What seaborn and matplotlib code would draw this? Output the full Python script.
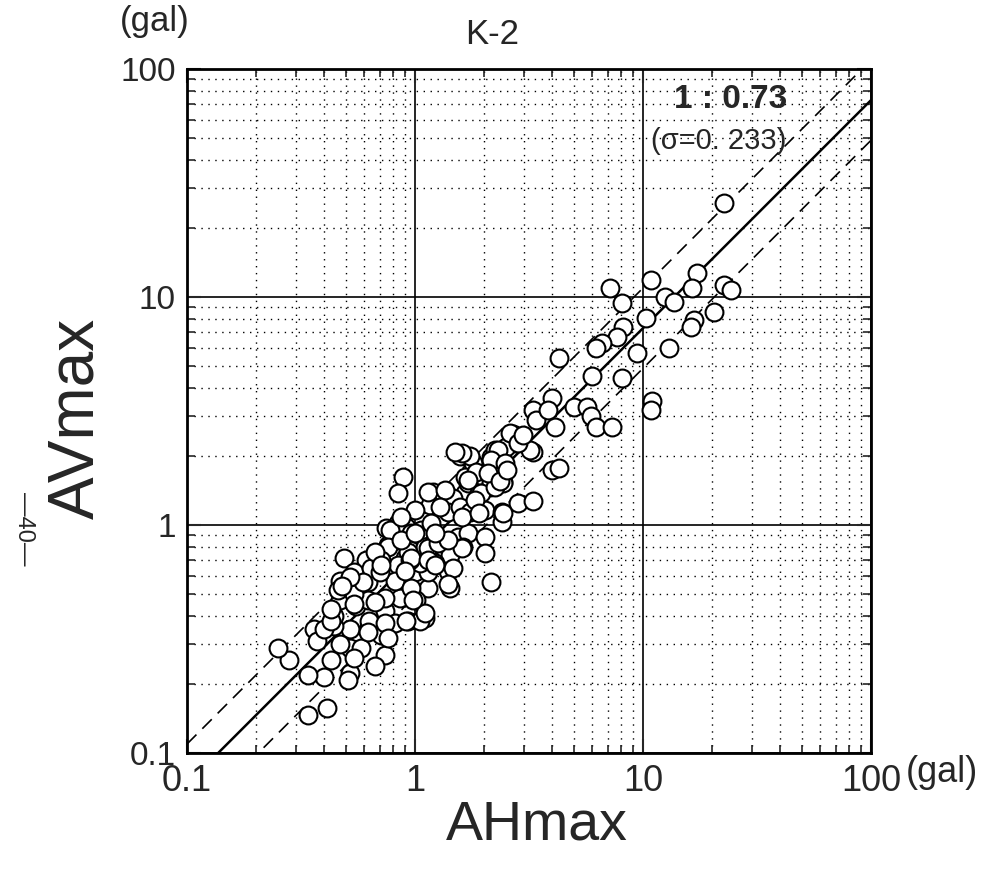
import numpy as np
import pandas as pd
import seaborn as sns
import matplotlib
matplotlib.use('Agg')
from matplotlib import pyplot as plt
from matplotlib.ticker import LogLocator, NullFormatter

# AHmax (gal) / AVmax (gal)
ah_max = [22.7, 7.2, 10.8, 8.1, 12.5, 13.7, 17.3, 16.4, 22.7, 24.4, 20.5, 16.8, 16.3, 10.3, 8.2,
          7.7, 6.6, 6.2, 9.4, 13.0, 8.1, 6.0,
          4.3, 11.0, 10.8, 4.0, 3.3, 3.4, 3.85, 5.0, 5.7, 5.9, 6.2, 7.3, 4.1, 2.7, 2.78, 2.4, 3.3,
          1.66, 1.8, 2.16, 4.0, 4.3, 2.44, 1.95, 1.66, 1.76, 2.14, 1.66,
          0.89, 0.84, 1.58, 1.75, 2.25, 2.5, 3.2, 1.86, 1.71, 2.16, 2.44, 1.2, 1.16, 1.47, 1.9, 1.4,
          1.58, 1.75, 2.03, 2.4, 2.84, 2.4, 0.84, 0.745, 0.91, 1.06, 1.18, 0.96, 1.24, 1.55, 1.71,
          2.03, 1.63, 2.03, 0.84, 0.76, 0.95, 1.11, 1.36, 1.43, 1.18, 0.90,
          2.16, 2.44, 2.62, 2.84, 1.6, 1.5, 1.14, 1.36, 0.78, 0.49, 0.61, 0.76, 0.93, 1.14, 1.22,
          1.40, 1.43, 1.14, 0.86, 1.01, 1.11, 0.93, 0.74, 0.62, 0.54, 0.47, 0.47, 0.55, 0.62, 0.71,
          0.52, 0.44, 0.36, 0.37, 0.43, 0.52, 0.52, 0.51, 0.74, 0.67, 0.82, 1.05, 0.40, 0.34, 0.28,
          0.25, 0.41, 0.34, 0.64, 0.84, 0.71, 1.0, 1.14, 1.05, 0.82, 0.96, 0.74, 0.62, 0.54, 0.44,
          0.40, 0.47, 0.58, 0.54, 0.95, 1.26, 1.47, 1.6, 0.87, 0.67, 0.70, 1.11, 0.96, 1.14, 1.40,
          1.71, 1.95, 2.25, 1.84, 2.32, 2.16, 2.1, 2.49, 1.29, 1.0, 0.87, 1.0, 1.22, 1.6, 1.9,
          0.59, 0.46, 0.52, 0.54, 0.67, 0.63, 0.74, 0.91, 0.98, 1.40, 1.22, 0.71, 0.90, 0.62, 0.76,
          0.43, 0.48, 0.43, 3.3, 2.37, 2.54, 2.97]
av_max = [25.8, 10.9, 11.9, 9.4, 10.0, 9.5, 12.7, 10.9, 11.3, 10.7, 8.6, 7.9, 7.4, 8.1, 7.4,
          6.7, 6.3, 6.0, 5.7, 6.0, 4.4, 4.5,
          5.4, 3.5, 3.2, 3.6, 3.2, 2.9, 3.2, 3.3, 3.3, 3.0, 2.7, 2.7, 2.7, 2.5, 2.3, 2.1, 2.1,
          2.0, 1.87, 1.99, 1.74, 1.78, 1.55, 1.55, 1.62, 1.42, 1.47, 1.38,
          1.62, 1.38, 2.0, 2.0, 2.13, 2.2, 2.13, 1.71, 1.53, 1.55, 1.53, 1.4, 1.22, 1.31, 1.38, 1.14,
          1.2, 1.14, 1.16, 1.14, 1.25, 1.03, 1.02, 0.97, 0.98, 0.95, 1.02, 0.92, 0.89, 0.89, 0.92,
          0.89, 0.80, 0.75, 0.86, 0.82, 0.78, 0.80, 0.83, 0.74, 0.70, 0.72,
          0.56, 1.13, 2.53, 2.29, 2.07, 2.09, 1.40, 1.42, 0.95, 0.72, 0.70, 0.80, 0.76, 0.79, 0.68,
          0.63, 0.53, 0.53, 0.48, 0.47, 0.39, 0.38, 0.42, 0.56, 0.62, 0.57, 0.47, 0.44, 0.35, 0.33,
          0.35, 0.36, 0.35, 0.31, 0.256, 0.29, 0.224, 0.21, 0.27, 0.24, 0.37, 0.38, 0.215, 0.22, 0.256,
          0.29, 0.157, 0.147, 0.65, 0.67, 0.70, 0.62, 0.62, 0.68, 0.57, 0.53, 0.48, 0.47, 0.50, 0.40,
          0.35, 0.30, 0.29, 0.26, 0.70, 0.83, 0.65, 0.79, 0.86, 0.76, 0.62, 0.41, 0.72, 0.70, 0.86,
          1.58, 1.38, 1.47, 1.29, 2.13, 1.93, 1.69, 1.87, 1.2, 1.16, 1.08, 0.92, 0.92, 1.08, 1.13,
          0.56, 0.52, 0.59, 0.45, 0.46, 0.38, 0.37, 0.38, 0.47, 0.55, 0.67, 0.67, 0.63, 0.34, 0.32,
          0.38, 0.54, 0.43, 1.27, 1.56, 1.75, 2.48]

ratio = 0.73      # AV : AH
band = 1.5        # dashed lines, +/- sigma
ticks = [0.1, 1, 10, 100]
tick_labels = ['0.1', '1', '10', '100']

sns.set_style('ticks')
plt.rcParams['font.family'] = ['Liberation Sans', 'DejaVu Sans']

W, H = 991, 874
fig = plt.figure(figsize=(W / 100, H / 100), dpi=100)
ax = fig.add_axes([187 / W, 1 - 753 / H, 684 / W, 684 / H])

data = pd.DataFrame({'AHmax': ah_max, 'AVmax': av_max})

lx = np.array([0.1, 100.0])
ax.plot(lx, ratio * lx, color='k', lw=1.8, zorder=2)
ax.plot(lx, ratio * lx * band, color='k', lw=1.2, ls=(0, (8, 5)), zorder=2)
ax.plot(lx, ratio * lx / band, color='k', lw=1.2, ls=(0, (8, 5)), zorder=2)

sns.scatterplot(data=data, x='AHmax', y='AVmax', ax=ax, marker='o', s=165,
                color='white', edgecolor='black', linewidth=1.5, zorder=3, legend=False)

ax.set_xscale('log')
ax.set_yscale('log')
ax.set_xlim(0.1, 100)
ax.set_ylim(0.1, 100)
ax.set_xlabel('')
ax.set_ylabel('')

for axis in (ax.xaxis, ax.yaxis):
    axis.set_minor_locator(LogLocator(base=10, subs=range(2, 10)))
    axis.set_minor_formatter(NullFormatter())
ax.set_xticks(ticks, tick_labels)
ax.set_yticks(ticks, tick_labels)

ax.set_axisbelow(True)
ax.grid(which='major', color='black', lw=1.2, ls='-')
ax.grid(which='minor', color='black', lw=1.0, ls=(0, (1, 4)))
ax.tick_params(which='both', direction='in', top=True, right=True)
ax.tick_params(axis='x', labelsize=26)
ax.tick_params(axis='y', labelsize=24)
ax.tick_params(which='major', length=10, width=1.5, pad=8)
ax.tick_params(which='minor', length=6, width=1.2)
for sp in ax.spines.values():
    sp.set_linewidth(2)
    sp.set_color('black')

ax.text(0.795, 0.955, '1 : 0.73', transform=ax.transAxes, ha='center', va='center',
        fontsize=24, fontweight='bold')
ax.text(0.778, 0.895, '(σ=0. 233)', transform=ax.transAxes, ha='center', va='center',
        fontsize=21)

fig.text(906 / W, 1 - 773 / H, '(gal)', fontsize=26, ha='left', va='center')
fig.text(155 / W, 1 - 22 / H, '(gal)', fontsize=25, ha='center', va='center')
fig.text(492 / W, 1 - 35 / H, 'K-2', fontsize=25, ha='center', va='center')
fig.text(537 / W, 1 - 826 / H, 'AHmax', fontsize=40, ha='center', va='center')
fig.text(76 / W, 1 - 418 / H, 'AVmax', fontsize=46, rotation=90, ha='center', va='center')
fig.text(24 / W, 1 - 529 / H, '—40—', fontsize=17, rotation=-90, ha='center', va='center')

fig.savefig('out.png', dpi=100, facecolor='white')
